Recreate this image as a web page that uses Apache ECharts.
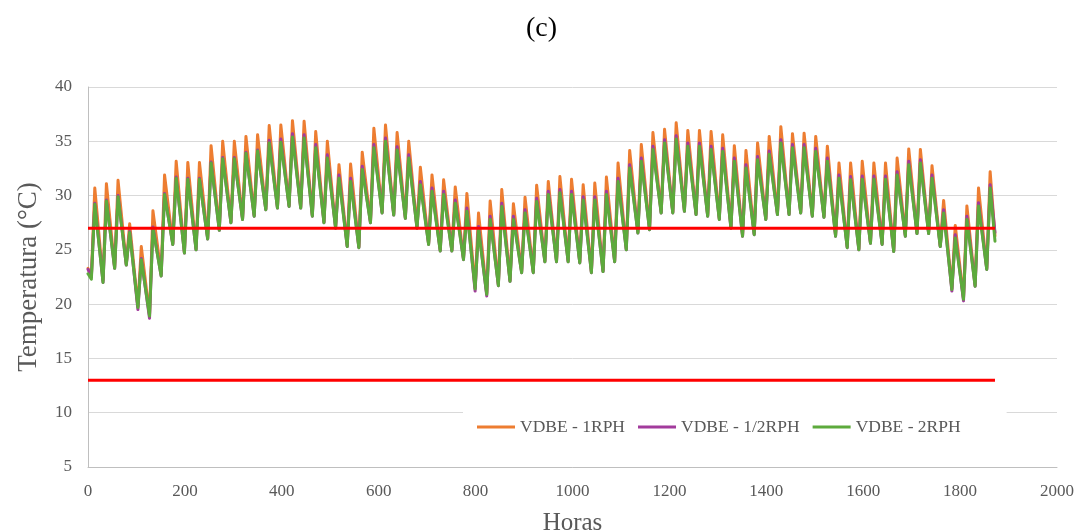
<!DOCTYPE html>
<html>
<head>
<meta charset="utf-8">
<script src="https://cdn.jsdelivr.net/npm/echarts@6/dist/echarts.min.js"></script>
<style>
html,body{margin:0;padding:0;background:#fff;}
#c{width:1083px;height:532px;}
</style>
</head>
<body>
<div id="c"></div>
<script>
// ---- Data (one trough and one peak per day, 78 days) ----
const seriesNames = ['VDBE - 1RPH', 'VDBE - 1/2RPH', 'VDBE - 2RPH'];
const xTicks = [0, 200, 400, 600, 800, 1000, 1200, 1400, 1600, 1800, 2000];
const yTicks = [5, 10, 15, 20, 25, 30, 35, 40];
const limitUpper = 27;
const limitLower = 13;
const lastHour = 1872;
const troughHourOfDay = 7;
const peakHourOfDay = 14;

const orangePeak = [30.7,31.1,31.4,27.4,25.3,28.6,31.9,33.15,33.05,33.05,
  34.6,35.0,35.0,35.45,35.6,36.45,36.5,36.9,36.85,35.9,
  35.0,32.85,32.9,34.0,36.2,36.5,35.8,35.0,32.6,31.9,
  31.45,30.8,30.2,28.4,29.5,30.55,29.25,29.85,30.95,31.3,
  31.75,31.5,31.0,31.15,31.7,33.0,34.15,34.7,35.8,36.1,
  36.7,36.0,36.0,35.9,35.6,34.6,34.15,34.85,35.45,36.35,
  35.7,35.75,35.45,34.55,33.0,33.0,33.15,33.0,33.0,33.45,
  34.3,34.25,32.75,29.55,27.25,29.05,30.7,32.2];

const purplePeak = [29.3,29.6,30.0,26.7,24.2,27.1,30.2,31.7,31.6,31.6,
  33.1,33.5,33.5,34.0,34.2,35.1,35.2,35.7,35.6,34.7,
  33.75,31.9,31.6,32.7,34.7,35.3,34.5,33.75,31.3,30.7,
  30.4,29.6,28.85,27.15,28.1,29.3,28.1,28.7,29.75,30.4,
  30.55,30.4,29.9,29.9,30.4,31.6,32.85,33.45,34.55,35.15,
  35.5,34.85,34.85,34.55,34.35,33.45,32.85,33.6,34.1,35.15,
  34.7,34.7,34.35,33.45,31.9,31.75,31.8,31.8,31.8,32.2,
  33.15,33.3,31.9,28.7,26.4,28.1,29.35,31.0];

const greenPeak = [29.2,29.5,29.9,26.6,24.1,27.0,30.1,31.6,31.5,31.5,
  33.0,33.4,33.4,33.9,34.1,34.85,34.9,35.4,35.3,34.4,
  33.45,31.6,31.3,32.4,34.4,35.0,34.2,33.45,31.0,30.4,
  30.1,29.3,28.55,26.85,27.8,29.0,27.8,28.4,29.45,30.1,
  30.25,30.1,29.6,29.6,30.1,31.3,32.55,33.15,34.25,34.85,
  35.2,34.55,34.55,34.25,34.05,33.15,32.55,33.3,33.8,34.85,
  34.4,34.4,34.05,33.15,31.6,31.45,31.5,31.5,31.5,31.9,
  32.85,33.0,31.6,28.4,26.1,27.8,29.05,30.7];

const orangeTrough = [22.6,22.2,23.4,23.7,19.8,19.0,22.8,25.6,24.8,25.1,
  26.1,26.9,27.6,27.9,28.2,28.8,28.95,29.1,28.95,28.2,
  27.6,27.1,25.4,25.3,27.6,28.5,28.3,28.0,27.1,25.6,
  25.0,25.0,24.2,21.5,21.0,21.8,22.2,23.0,23.0,24.0,
  24.0,24.0,23.9,23.0,23.1,24.0,25.1,26.65,26.95,28.5,
  28.5,28.65,28.35,28.2,27.9,27.1,26.35,26.5,27.9,28.35,
  28.35,28.5,28.2,28.1,26.35,25.3,25.1,25.7,25.6,24.95,
  26.35,26.6,26.6,25.4,21.45,20.55,21.75,23.3];

const purpleTrough = [22.5,22.0,23.3,23.6,19.5,18.7,22.6,25.5,24.7,25.0,
  26.0,26.8,27.5,27.8,28.1,28.7,28.85,29.0,28.85,28.1,
  27.5,27.0,25.3,25.2,27.5,28.4,28.2,27.9,27.0,25.5,
  24.9,24.9,24.1,21.2,20.75,21.7,22.1,22.9,22.9,23.9,
  23.9,23.9,23.8,22.9,23.0,23.9,25.0,26.55,26.85,28.4,
  28.4,28.55,28.25,28.1,27.8,27.0,26.25,26.4,27.8,28.25,
  28.25,28.4,28.1,28.0,26.25,25.2,25.0,25.6,25.5,24.85,
  26.25,26.5,26.5,25.3,21.2,20.3,21.65,23.2];

const greenTrough = [22.3,22.0,23.3,23.6,19.7,18.9,22.6,25.5,24.7,25.0,
  26.0,26.8,27.5,27.8,28.1,28.7,28.85,29.0,28.85,28.1,
  27.5,27.0,25.3,25.2,27.5,28.4,28.2,27.9,27.0,25.5,
  24.9,24.9,24.1,21.4,20.9,21.7,22.1,22.9,22.9,23.9,
  23.9,23.9,23.8,22.9,23.0,23.9,25.0,26.55,26.85,28.4,
  28.4,28.55,28.25,28.1,27.8,27.0,26.25,26.4,27.8,28.25,
  28.25,28.4,28.1,28.0,26.25,25.2,25.0,25.6,25.5,24.85,
  26.25,26.5,26.5,25.3,21.35,20.45,21.65,23.2];

const startValues = [23.3, 23.2, 22.8];
const endValues = [26.3, 26.6, 25.8];

// ---- Build the series points ----
function build(troughs, peaks, startV, endV) {
  const pts = [[0, startV]];
  for (let d = 0; d < peaks.length; d++) {
    pts.push([d * 24 + troughHourOfDay, troughs[d]]);
    pts.push([d * 24 + peakHourOfDay, peaks[d]]);
  }
  pts.push([lastHour, endV]);
  return pts;
}

const colors = ['#ED7D31', '#A23B9C', '#5DAA3C'];
const font = "'Liberation Serif', 'Times New Roman', serif";

const chart = echarts.init(document.getElementById('c'), null, {renderer: 'canvas'});

const lineSeries = [
  build(orangeTrough, orangePeak, startValues[0], endValues[0]),
  build(purpleTrough, purplePeak, startValues[1], endValues[1]),
  build(greenTrough, greenPeak, startValues[2], endValues[2])
].map((data, i) => ({
  name: seriesNames[i],
  type: 'line',
  data: data,
  showSymbol: false,
  symbol: 'none',
  smooth: false,
  color: colors[i],
  lineStyle: {width: 3, color: colors[i], join: 'round', cap: 'round'},
  z: 2 + i
}));

const redSeries = [limitUpper, limitLower].map(v => ({
  name: 'limit' + v,
  type: 'line',
  data: [[0, v], [lastHour, v]],
  symbol: 'none',
  color: '#FF0000',
  lineStyle: {width: 3, color: '#FF0000'},
  z: 6
}));

chart.setOption({
  animation: false,
  backgroundColor: '#ffffff',
  textStyle: {fontFamily: font},
  title: {
    text: '(c)',
    left: 'center',
    top: 10,
    textStyle: {fontFamily: font, fontSize: 28, fontWeight: 'normal', color: '#000'}
  },
  grid: {left: 88, right: 26, top: 87, bottom: 65, containLabel: false, outerBoundsMode: 'none'},
  legend: {
    data: seriesNames,
    icon: 'rect',
    left: 463,
    top: 407,
    padding: [11, 46, 11, 14],
    backgroundColor: '#ffffff',
    itemWidth: 38,
    itemHeight: 3,
    itemGap: 13,
    textStyle: {fontFamily: font, fontSize: 17.5, color: '#595959'}
  },
  xAxis: {
    type: 'value',
    min: xTicks[0],
    max: xTicks[xTicks.length - 1],
    interval: xTicks[1] - xTicks[0],
    name: 'Horas',
    nameLocation: 'middle',
    nameGap: 44,
    nameTextStyle: {fontFamily: font, fontSize: 25, color: '#595959'},
    axisLine: {show: true, lineStyle: {color: '#BFBFBF', width: 1}},
    axisTick: {show: false},
    splitLine: {show: false},
    axisLabel: {fontFamily: font, fontSize: 17, color: '#595959', margin: 16,
      formatter: v => String(v)}
  },
  yAxis: {
    type: 'value',
    min: yTicks[0],
    max: yTicks[yTicks.length - 1],
    interval: yTicks[1] - yTicks[0],
    name: 'Temperatura (°C)',
    nameLocation: 'middle',
    nameGap: 46,
    nameRotate: 90,
    nameTextStyle: {fontFamily: font, fontSize: 27, color: '#595959'},
    axisLine: {show: true, lineStyle: {color: '#BFBFBF', width: 1}},
    axisTick: {show: false},
    splitLine: {show: true, lineStyle: {color: '#D9D9D9', width: 1}},
    axisLabel: {fontFamily: font, fontSize: 17, color: '#595959', margin: 16}
  },
  series: lineSeries.concat(redSeries)
});
</script>
</body>
</html>
